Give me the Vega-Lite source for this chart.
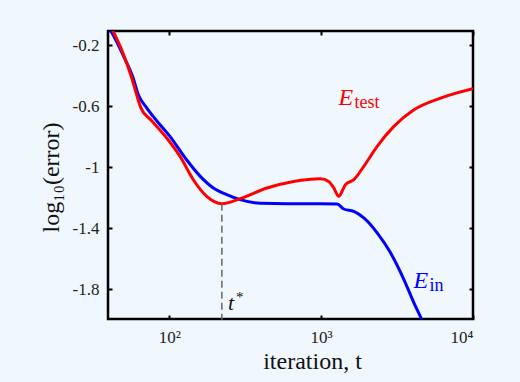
{
  "$schema": "https://vega.github.io/schema/vega-lite/v6.json",
  "autosize": {"type": "none"},
  "width": 365,
  "height": 288,
  "padding": {"left": 108, "top": 31, "right": 47, "bottom": 63},
  "background": "#f0f7fd",
  "config": {
    "view": {"stroke": "black", "strokeWidth": 2.5, "fill": "#f0f7fd"},
    "font": "Liberation Serif",
    "axis": {"grid": false, "domain": false, "tickColor": "black", "tickWidth": 2, "tickSize": 4, "offset": -4, "labelFont": "Liberation Serif", "labelFontSize": 17, "labelColor": "#222", "titleFont": "Liberation Serif", "titleFontSize": 24, "titleFontWeight": "normal", "titleColor": "#111"}
  },
  "datasets": {
    "curves": [
      {"t": 38, "v": -0.05, "s": "Ein"},
      {"t": 41.2, "v": -0.104, "s": "Ein"},
      {"t": 50, "v": -0.27, "s": "Ein"},
      {"t": 57.8, "v": -0.412, "s": "Ein"},
      {"t": 62.4, "v": -0.521, "s": "Ein"},
      {"t": 71, "v": -0.609, "s": "Ein"},
      {"t": 82.6, "v": -0.694, "s": "Ein"},
      {"t": 101, "v": -0.797, "s": "Ein"},
      {"t": 130, "v": -0.95, "s": "Ein"},
      {"t": 160, "v": -1.059, "s": "Ein"},
      {"t": 195, "v": -1.135, "s": "Ein"},
      {"t": 239, "v": -1.179, "s": "Ein"},
      {"t": 293, "v": -1.212, "s": "Ein"},
      {"t": 397, "v": -1.236, "s": "Ein"},
      {"t": 600, "v": -1.238, "s": "Ein"},
      {"t": 1000, "v": -1.238, "s": "Ein"},
      {"t": 1273, "v": -1.24, "s": "Ein"},
      {"t": 1409, "v": -1.273, "s": "Ein"},
      {"t": 1641, "v": -1.289, "s": "Ein"},
      {"t": 1910, "v": -1.332, "s": "Ein"},
      {"t": 2339, "v": -1.43, "s": "Ein"},
      {"t": 2865, "v": -1.561, "s": "Ein"},
      {"t": 3508, "v": -1.736, "s": "Ein"},
      {"t": 4083, "v": -1.889, "s": "Ein"},
      {"t": 4563, "v": -1.992, "s": "Ein"},
      {"t": 5000, "v": -2.09, "s": "Ein"},
      {"t": 39, "v": -0.03, "s": "Etest"},
      {"t": 42.6, "v": -0.104, "s": "Etest"},
      {"t": 50, "v": -0.26, "s": "Etest"},
      {"t": 56.5, "v": -0.41, "s": "Etest"},
      {"t": 60.9, "v": -0.521, "s": "Etest"},
      {"t": 65, "v": -0.609, "s": "Etest"},
      {"t": 76.6, "v": -0.694, "s": "Etest"},
      {"t": 96.2, "v": -0.807, "s": "Etest"},
      {"t": 117.8, "v": -0.928, "s": "Etest"},
      {"t": 144, "v": -1.081, "s": "Etest"},
      {"t": 176.5, "v": -1.19, "s": "Etest"},
      {"t": 222, "v": -1.238, "s": "Etest"},
      {"t": 293, "v": -1.205, "s": "Etest"},
      {"t": 440, "v": -1.135, "s": "Etest"},
      {"t": 659, "v": -1.092, "s": "Etest"},
      {"t": 989, "v": -1.074, "s": "Etest"},
      {"t": 1122, "v": -1.092, "s": "Etest"},
      {"t": 1211, "v": -1.135, "s": "Etest"},
      {"t": 1307, "v": -1.19, "s": "Etest"},
      {"t": 1374, "v": -1.157, "s": "Etest"},
      {"t": 1446, "v": -1.113, "s": "Etest"},
      {"t": 1641, "v": -1.081, "s": "Etest"},
      {"t": 1910, "v": -0.993, "s": "Etest"},
      {"t": 2339, "v": -0.862, "s": "Etest"},
      {"t": 3013, "v": -0.731, "s": "Etest"},
      {"t": 4083, "v": -0.622, "s": "Etest"},
      {"t": 6124, "v": -0.545, "s": "Etest"},
      {"t": 10000, "v": -0.484, "s": "Etest"}
    ],
    "tstar": [{"t": 222, "v": -1.238, "v2": -2.0}],
    "labels": [
      {"t": 1300, "v": -0.589, "main": "E", "sub": "test", "c": "Etest"},
      {"t": 4064, "v": -1.789, "main": "E", "sub": "in", "c": "Ein"}
    ],
    "tlabel": [{"t": 233, "v": -1.934, "main": "t", "sup": "*"}]
  },
  "layer": [
    {
      "data": {"name": "curves"},
      "mark": {"type": "line", "strokeWidth": 3, "clip": true, "interpolate": "monotone"},
      "encoding": {
        "x": {"field": "t", "type": "quantitative", "scale": {"type": "log", "domain": [39.5, 10000], "nice": false},
              "axis": {"orient": "bottom", "values": [100, 1000, 10000], "labelExpr": "datum.value == 100 ? '10²' : datum.value == 1000 ? '10³' : '10⁴'", "labelPadding": 10, "title": "iteration, t", "titleX": 204, "titleY": 53, "titleBaseline": "alphabetic", "titleAlign": "center"}},
        "y": {"field": "v", "type": "quantitative", "scale": {"domain": [-1.995, -0.105], "nice": false, "zero": false},
              "axis": {"orient": "left", "values": [-1.8, -1.4, -1, -0.6, -0.2], "labelExpr": "'' + datum.value", "labelPadding": 9, "title": "log₁₀(error)", "titleX": -61, "titleY": 146, "titleAngle": -90, "titleAlign": "center", "titleBaseline": "middle"}},
        "color": {"field": "s", "type": "nominal", "scale": {"domain": ["Ein", "Etest"], "range": ["#0000ff", "#ff0000"]}, "legend": null},
        "order": {"field": "s", "sort": "ascending"}
      }
    },
    {
      "data": {"name": "tstar"},
      "mark": {"type": "rule", "color": "#666666", "strokeWidth": 1.5, "strokeDash": [7, 4]},
      "encoding": {
        "x": {"field": "t", "type": "quantitative", "axis": {"orient": "top", "values": [100, 1000, 10000], "labels": false, "title": null}},
        "y": {"field": "v", "type": "quantitative", "axis": {"orient": "right", "values": [-1.8, -1.4, -1, -0.6, -0.2], "labels": false, "title": null}},
        "y2": {"field": "v2"}
      }
    },
    {
      "data": {"name": "tlabel"},
      "mark": {"type": "text", "align": "left", "baseline": "alphabetic", "fontSize": 22, "fontStyle": "italic", "dx": 3, "color": "#111"},
      "encoding": {
        "x": {"field": "t", "type": "quantitative", "axis": null},
        "y": {"field": "v", "type": "quantitative", "axis": null},
        "text": {"field": "main"}
      }
    },
    {
      "data": {"name": "tlabel"},
      "mark": {"type": "text", "align": "left", "baseline": "alphabetic", "fontSize": 15, "dx": 11, "dy": -8, "color": "#111"},
      "encoding": {
        "x": {"field": "t", "type": "quantitative", "axis": null},
        "y": {"field": "v", "type": "quantitative", "axis": null},
        "text": {"field": "sup"}
      }
    },
    {
      "data": {"name": "labels"},
      "mark": {"type": "text", "align": "left", "baseline": "alphabetic", "fontSize": 24, "fontStyle": "italic"},
      "encoding": {
        "x": {"field": "t", "type": "quantitative", "axis": null},
        "y": {"field": "v", "type": "quantitative", "axis": null},
        "text": {"field": "main"},
        "color": {"field": "c", "type": "nominal", "scale": {"domain": ["Ein", "Etest"], "range": ["#4444ee", "#ee2222"]}, "legend": null}
      }
    },
    {
      "data": {"name": "labels"},
      "mark": {"type": "text", "align": "left", "baseline": "alphabetic", "fontSize": 18, "dx": 16, "dy": 3},
      "encoding": {
        "x": {"field": "t", "type": "quantitative", "axis": null},
        "y": {"field": "v", "type": "quantitative", "axis": null},
        "text": {"field": "sub"},
        "color": {"field": "c", "type": "nominal", "legend": null}
      }
    }
  ],
  "resolve": {"axis": {"x": "independent", "y": "independent"}}
}
